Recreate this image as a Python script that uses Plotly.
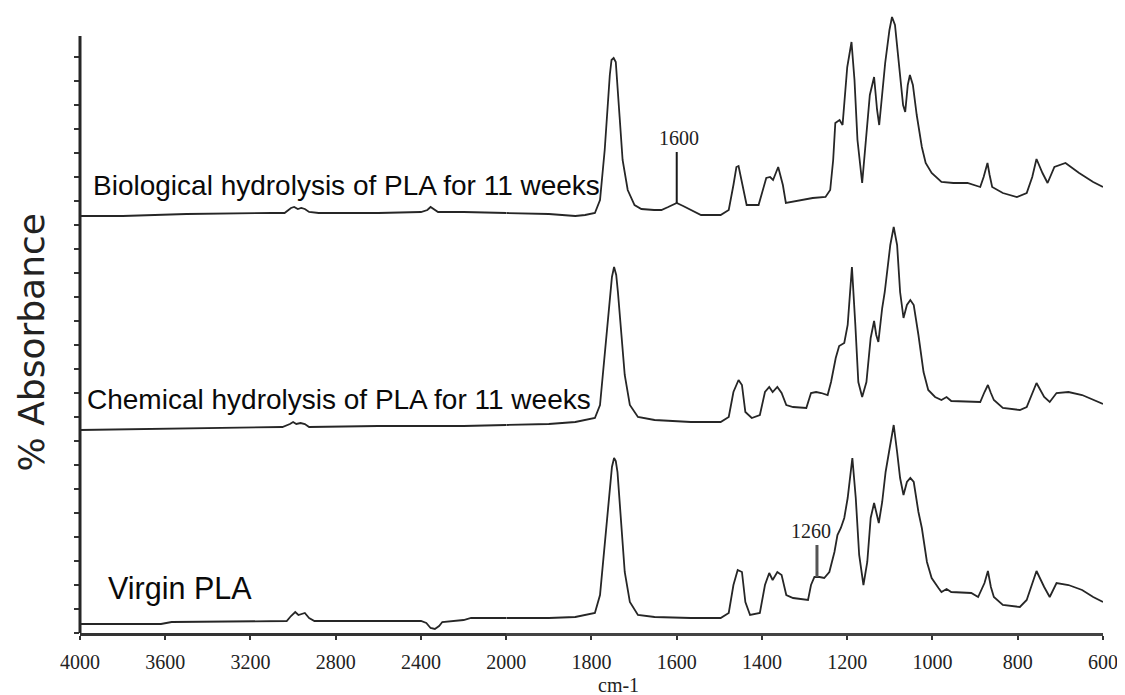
import plotly.graph_objects as go

# ---------------- data (wavenumber cm-1, absorbance in arbitrary units) ----------------
wn_bio = [4000, 3800, 3650, 3500, 3100, 3040, 3010, 2995, 2978, 2962, 2945, 2925, 2880, 2600,
          2400, 2370, 2355, 2340, 2320, 2200, 2000, 1900, 1838, 1815, 1792, 1780, 1769, 1762,
          1757, 1753, 1748, 1743, 1738, 1734, 1727, 1715, 1699, 1683, 1653, 1636, 1620, 1600,
          1585, 1567, 1543, 1497, 1478, 1467, 1460, 1455, 1448, 1436, 1408, 1397, 1390, 1381,
          1374, 1362, 1351, 1344, 1311, 1281, 1251, 1240, 1233, 1228, 1218, 1211, 1200, 1190,
          1183, 1176, 1165, 1158, 1147, 1137, 1130, 1125, 1118, 1111, 1101, 1095, 1088, 1078,
          1069, 1064, 1058, 1053, 1046, 1037, 1025, 1016, 1002, 979, 951, 918, 888, 880, 871,
          866, 860, 835, 802, 779, 766, 756, 742, 730, 721, 714, 688, 656, 623, 600]
abs_bio = [0.17, 0.17, 0.18, 0.19, 0.20, 0.20, 0.25, 0.26, 0.24, 0.25, 0.24, 0.21, 0.20, 0.20,
           0.21, 0.23, 0.26, 0.24, 0.21, 0.21, 0.20, 0.19, 0.17, 0.18, 0.20, 0.33, 0.83, 1.33,
           1.58, 1.73, 1.75, 1.71, 1.45, 1.16, 0.73, 0.43, 0.28, 0.24, 0.23, 0.23, 0.26, 0.30,
           0.27, 0.23, 0.18, 0.18, 0.23, 0.48, 0.66, 0.67, 0.53, 0.28, 0.28, 0.43, 0.55, 0.56,
           0.53, 0.66, 0.48, 0.30, 0.33, 0.35, 0.36, 0.43, 0.73, 1.10, 1.13, 1.08, 1.66, 1.91,
           1.53, 0.93, 0.50, 0.83, 1.38, 1.56, 1.23, 1.08, 1.38, 1.70, 2.03, 2.16, 2.08, 1.63,
           1.28, 1.21, 1.48, 1.58, 1.48, 1.18, 0.86, 0.70, 0.60, 0.51, 0.50, 0.50, 0.46, 0.56, 0.70,
           0.58, 0.46, 0.40, 0.36, 0.40, 0.56, 0.74, 0.60, 0.50, 0.60, 0.66, 0.70, 0.60, 0.51, 0.46]

wn_chem = [4000, 3700, 3400, 3050, 3015, 3000, 2985, 2965, 2945, 2925, 2600, 2200, 2000, 1900,
           1838, 1792, 1780, 1769, 1757, 1752, 1747, 1742, 1738, 1730, 1722, 1710, 1691, 1652,
           1567, 1497, 1478, 1467, 1455, 1447, 1439, 1424, 1405, 1393, 1383, 1375, 1364, 1354,
           1343, 1327, 1296, 1285, 1273, 1261, 1246, 1238, 1227, 1219, 1207, 1199, 1189, 1181,
           1174, 1165, 1155, 1145, 1137, 1132, 1127, 1118, 1112, 1099, 1091, 1083, 1076, 1068,
           1060, 1052, 1044, 1033, 1021, 1010, 994, 979, 967, 956, 909, 888, 878, 870, 863, 856,
           835, 795, 779, 766, 756, 738, 725, 709, 681, 649, 623, 600]
abs_chem = [0.03, 0.04, 0.05, 0.06, 0.09, 0.11, 0.09, 0.10, 0.09, 0.06, 0.07, 0.07, 0.08, 0.09,
            0.11, 0.15, 0.28, 0.81, 1.35, 1.56, 1.66, 1.58, 1.41, 0.98, 0.58, 0.28, 0.16, 0.13,
            0.11, 0.11, 0.16, 0.41, 0.53, 0.48, 0.21, 0.15, 0.18, 0.41, 0.46, 0.41, 0.46, 0.40,
            0.28, 0.26, 0.25, 0.40, 0.41, 0.40, 0.38, 0.51, 0.75, 0.87, 0.90, 1.08, 1.66, 1.08,
            0.51, 0.36, 0.51, 0.95, 1.12, 0.98, 0.91, 1.25, 1.41, 1.88, 2.06, 1.88, 1.41, 1.15,
            1.28, 1.33, 1.28, 0.98, 0.61, 0.43, 0.36, 0.33, 0.36, 0.32, 0.31, 0.31, 0.41, 0.48,
            0.40, 0.33, 0.25, 0.23, 0.26, 0.40, 0.50, 0.36, 0.31, 0.40, 0.41, 0.38, 0.33, 0.29]

wn_virgin = [4000, 3620, 3570, 3100, 3030, 3010, 2990, 2975, 2960, 2945, 2925, 2900, 2400, 2375,
             2355, 2335, 2315, 2300, 2200, 2165, 2000, 1900, 1838, 1792, 1780, 1769, 1757, 1752,
             1747, 1743, 1739, 1730, 1722, 1710, 1691, 1652, 1567, 1497, 1478, 1467, 1457, 1447,
             1439, 1428, 1405, 1393, 1383, 1375, 1364, 1354, 1343, 1327, 1292, 1285, 1277, 1265,
             1254, 1242, 1230, 1223, 1215, 1207, 1199, 1188, 1180, 1172, 1162, 1153, 1145, 1137,
             1132, 1126, 1118, 1110, 1102, 1091, 1083, 1076, 1068, 1060, 1052, 1044, 1033, 1025,
             1013, 1002, 986, 979, 967, 956, 909, 893, 878, 870, 863, 856, 835, 795, 779, 766,
             756, 738, 725, 709, 681, 649, 623, 600]
abs_virgin = [0.09, 0.09, 0.11, 0.12, 0.12, 0.17, 0.21, 0.18, 0.19, 0.20, 0.15, 0.12, 0.12, 0.10,
              0.05, 0.04, 0.07, 0.11, 0.13, 0.15, 0.15, 0.15, 0.16, 0.20, 0.38, 0.88, 1.45, 1.66,
              1.75, 1.72, 1.61, 1.05, 0.61, 0.31, 0.18, 0.16, 0.15, 0.15, 0.20, 0.48, 0.63, 0.61,
              0.31, 0.18, 0.20, 0.48, 0.60, 0.53, 0.61, 0.58, 0.38, 0.35, 0.33, 0.48, 0.56, 0.56,
              0.55, 0.61, 0.81, 0.98, 1.05, 1.15, 1.35, 1.75, 1.35, 0.78, 0.48, 0.71, 1.15, 1.30,
              1.21, 1.10, 1.31, 1.61, 1.81, 2.08, 1.81, 1.55, 1.38, 1.51, 1.55, 1.51, 1.21, 1.05,
              0.71, 0.55, 0.45, 0.41, 0.44, 0.41, 0.40, 0.36, 0.50, 0.62, 0.46, 0.36, 0.28, 0.26,
              0.33, 0.50, 0.62, 0.46, 0.36, 0.50, 0.48, 0.43, 0.36, 0.31]

series_names = ["Biological hydrolysis of PLA for 11 weeks",
                "Chemical hydrolysis of PLA for 11 weeks",
                "Virgin PLA"]
stack_offsets = [4.0, 2.0, 0.0]

ticks_high = [4000, 3600, 3200, 2800, 2400, 2000]
ticks_low = [1800, 1600, 1400, 1200, 1000, 800, 600]
break_wn = 2000
y_axis_top = 5.97          # where the drawn y-axis line ends
y_view_top = 6.23          # spectra may rise above the axis line
y_tick_step = 0.24

# annotated bands
band_1600 = {"wn": 1600, "y0": 4.30, "y1": 4.81, "label_wn": 1594, "label_y": 4.95, "text": "1600"}
band_1260 = {"wn": 1271, "y0": 0.56, "y1": 0.88, "label_wn": 1285, "label_y": 1.02, "text": "1260"}

# ---------------- figure ----------------
PAGE = 8                      # default body margin of the html page
W, H = 1125 - PAGE, 695 - PAGE
ML, MR, MT, MB = 72, 12, 2, 62
plot_w = W - ML - MR
plot_h = H - MT - MB
left_px = PAGE + ML
bottom_px = PAGE + H - MB
split = (510.4 - left_px) / plot_w   # 2x expanded scale below 2000 cm-1


def px_to_paper(px, py):
    return (px - left_px) / plot_w, (bottom_px - py) / plot_h


line_style = dict(color="#262626", width=1.8)

fig = go.Figure()
spectra = [(wn_bio, abs_bio), (wn_chem, abs_chem), (wn_virgin, abs_virgin)]
for (wn, ab), off, name in zip(spectra, stack_offsets, series_names):
    hx = [w for w in wn if w >= break_wn]
    hy = [a + off for w, a in zip(wn, ab) if w >= break_wn]
    lx = [w for w in wn if w <= break_wn]
    ly = [a + off for w, a in zip(wn, ab) if w <= break_wn]
    fig.add_trace(go.Scatter(x=hx, y=hy, mode="lines", line=line_style, name=name,
                             xaxis="x", yaxis="y", showlegend=False, hoverinfo="skip"))
    fig.add_trace(go.Scatter(x=lx, y=ly, mode="lines", line=line_style, name=name,
                             xaxis="x2", yaxis="y", showlegend=False, hoverinfo="skip"))

tickfont = dict(family="Liberation Serif, Times New Roman, serif", size=20, color="#222222")
common_x = dict(showgrid=False, zeroline=False, showline=True, linewidth=3,
                ticks="outside", ticklen=4, tickwidth=1.5, tickcolor="#333333",
                tickfont=tickfont, anchor="y", ticklabelstandoff=5, fixedrange=True)

n_ticks = int(y_axis_top / y_tick_step) + 1
y_ticks = [round(i * y_tick_step, 2) for i in range(n_ticks)]

fig.update_layout(
    width=W, height=H,
    margin=dict(l=ML, r=MR, t=MT, b=MB),
    paper_bgcolor="white", plot_bgcolor="white",
    showlegend=False,
    xaxis=dict(domain=[0, split], range=[4000, 2000], tickmode="array",
               tickvals=ticks_high, ticktext=[str(t) for t in ticks_high],
               linecolor="#333333", **common_x),
    xaxis2=dict(domain=[split, 1], range=[2000, 600], tickmode="array",
                tickvals=ticks_low, ticktext=[str(t) for t in ticks_low],
                linecolor="#444444", **common_x),
    yaxis=dict(domain=[0, 1], range=[0, y_view_top], anchor="x", showgrid=False, zeroline=False,
               showline=False, showticklabels=False,
               ticks="outside", ticklen=5, tickwidth=2, tickcolor="#333333",
               tickmode="array", tickvals=y_ticks, fixedrange=True),
)

# y-axis line (ends below the tallest peak, as in the original)
fig.add_shape(type="line", xref="paper", yref="y", x0=0, x1=0, y0=0, y1=y_axis_top,
              line=dict(color="#262626", width=3))

# band marker lines
for band, col, wid in [(band_1600, "#1a1a1a", 2), (band_1260, "#555555", 3)]:
    fig.add_shape(type="line", xref="x2", yref="y", x0=band["wn"], x1=band["wn"],
                  y0=band["y0"], y1=band["y1"], line=dict(color=col, width=wid))
    fig.add_annotation(xref="x2", yref="y", x=band["label_wn"], y=band["label_y"],
                       text=band["text"], showarrow=False, xanchor="center", yanchor="middle",
                       font=dict(family="Liberation Serif, Times New Roman, serif", size=20,
                                 color="#222222"))

# spectrum labels
label_font = dict(family="Liberation Sans, Arial, sans-serif", color="#0a0a0a")
label_pos = [(91, 185, 28), (85, 399, 28), (106, 588, 30.5)]
for name, (px, py, fs) in zip(series_names, label_pos):
    ax, ay = px_to_paper(px, py)
    fig.add_annotation(xref="paper", yref="paper", x=ax, y=ay,
                       text=name, showarrow=False, xanchor="left", yanchor="middle",
                       font=dict(size=fs, **label_font))

# axis titles
ax, ay = px_to_paper(624, 685)
fig.add_annotation(xref="paper", yref="paper", x=ax, y=ay,
                   text="cm-1", showarrow=False, xanchor="center", yanchor="middle",
                   font=dict(family="Liberation Serif, Times New Roman, serif", size=20,
                             color="#222222"))
ax, ay = px_to_paper(31, 342)
fig.add_annotation(xref="paper", yref="paper", x=ax, y=ay,
                   text="% Absorbance", showarrow=False, textangle=-90,
                   xanchor="center", yanchor="middle",
                   font=dict(family="DejaVu Sans, sans-serif", size=36, color="#222222"))

fig.write_html("out.html")
